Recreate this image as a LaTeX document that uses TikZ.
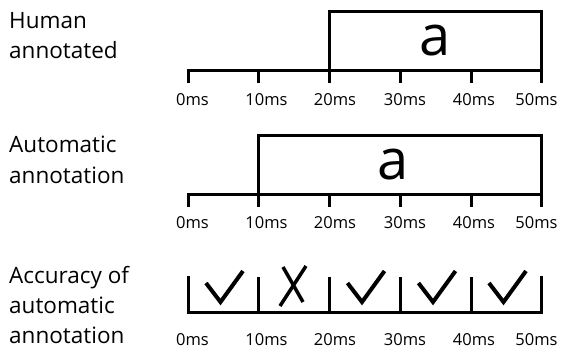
\documentclass[tikz,border=0pt]{standalone}
\usepackage{fontspec}
\setmainfont{Open Sans}
\begin{document}
\begin{tikzpicture}[x=1pt,y=-1pt,
  axis/.style={line width=3pt,line join=miter,line cap=butt},
  checkstroke/.style={line width=4pt,line join=miter,line cap=butt},
  leftlbl/.style={anchor=base west,inner sep=0pt,font=\fontsize{22.5}{27}\selectfont},
  ticklbl/.style={anchor=base,inner sep=0pt,font=\fontsize{16.5}{20}\selectfont},
  biga/.style={anchor=base,inner sep=0pt,font=\fontsize{56}{60}\selectfont}]
\useasboundingbox (0,0) rectangle (562,349);
% ---------- left labels
\node[leftlbl] (h1) at (9,28) {Human};
\node[leftlbl] (h2) at (9,58) {annotated};
\node[leftlbl] (a1) at (9,152) {Automatic};
\node[leftlbl] (a2) at (9,183) {annotation};
\node[leftlbl] (c1) at (9,283) {Accuracy of};
\node[leftlbl] (c2) at (9,313) {automatic};
\node[leftlbl] (c3) at (9,343.5) {annotation};
% ---------- row 1
\draw[axis] (188,83) -- (188,70) -- (541,70) -- (541,83);
\foreach \x in {258,329,400,471}{\draw[axis] (\x,70) -- (\x,83);}
\draw[axis] (329,70) -- (329,11.7) -- (541,11.7) -- (541,70);
\node[biga] (ra) at (435,55) {a};
\foreach \x/\t/\n in {192.5/0ms/0,266.5/10ms/1,335/20ms/2,405/30ms/3,474/40ms/4,536.5/50ms/5}
  {\node[ticklbl] (r1t\n) at (\x,105) {\t};}
% ---------- row 2
\draw[axis] (188,207) -- (188,194) -- (541,194) -- (541,207);
\foreach \x in {258,329,400,471}{\draw[axis] (\x,194) -- (\x,207);}
\draw[axis] (258,194) -- (258,135) -- (541,135) -- (541,194);
\node[biga] (rb) at (393,179) {a};
\foreach \x/\t/\n in {192.5/0ms/0,266.5/10ms/1,335/20ms/2,405/30ms/3,474/40ms/4,536.5/50ms/5}
  {\node[ticklbl] (r2t\n) at (\x,228) {\t};}
% ---------- row 3
\draw[axis] (188,276) -- (188,312) -- (541,312) -- (541,276);
\foreach \x in {258,329,400,471}{\draw[axis] (\x,277) -- (\x,312);}
\foreach \c in {223,364.5,435.5,506}{
  \draw[checkstroke] (\c-17,283) -- (\c-2.5,302) -- (\c+20,271);}
\draw[checkstroke,line width=3.5pt] (283,267) -- (303,302);
\draw[checkstroke,line width=3.5pt] (306,266) -- (280,306);
\foreach \x/\t/\n in {192.5/0ms/0,266.5/10ms/1,335/20ms/2,405/30ms/3,474/40ms/4,536.5/50ms/5}
  {\node[ticklbl] (r3t\n) at (\x,345.5) {\t};}
\end{tikzpicture}
\end{document}
